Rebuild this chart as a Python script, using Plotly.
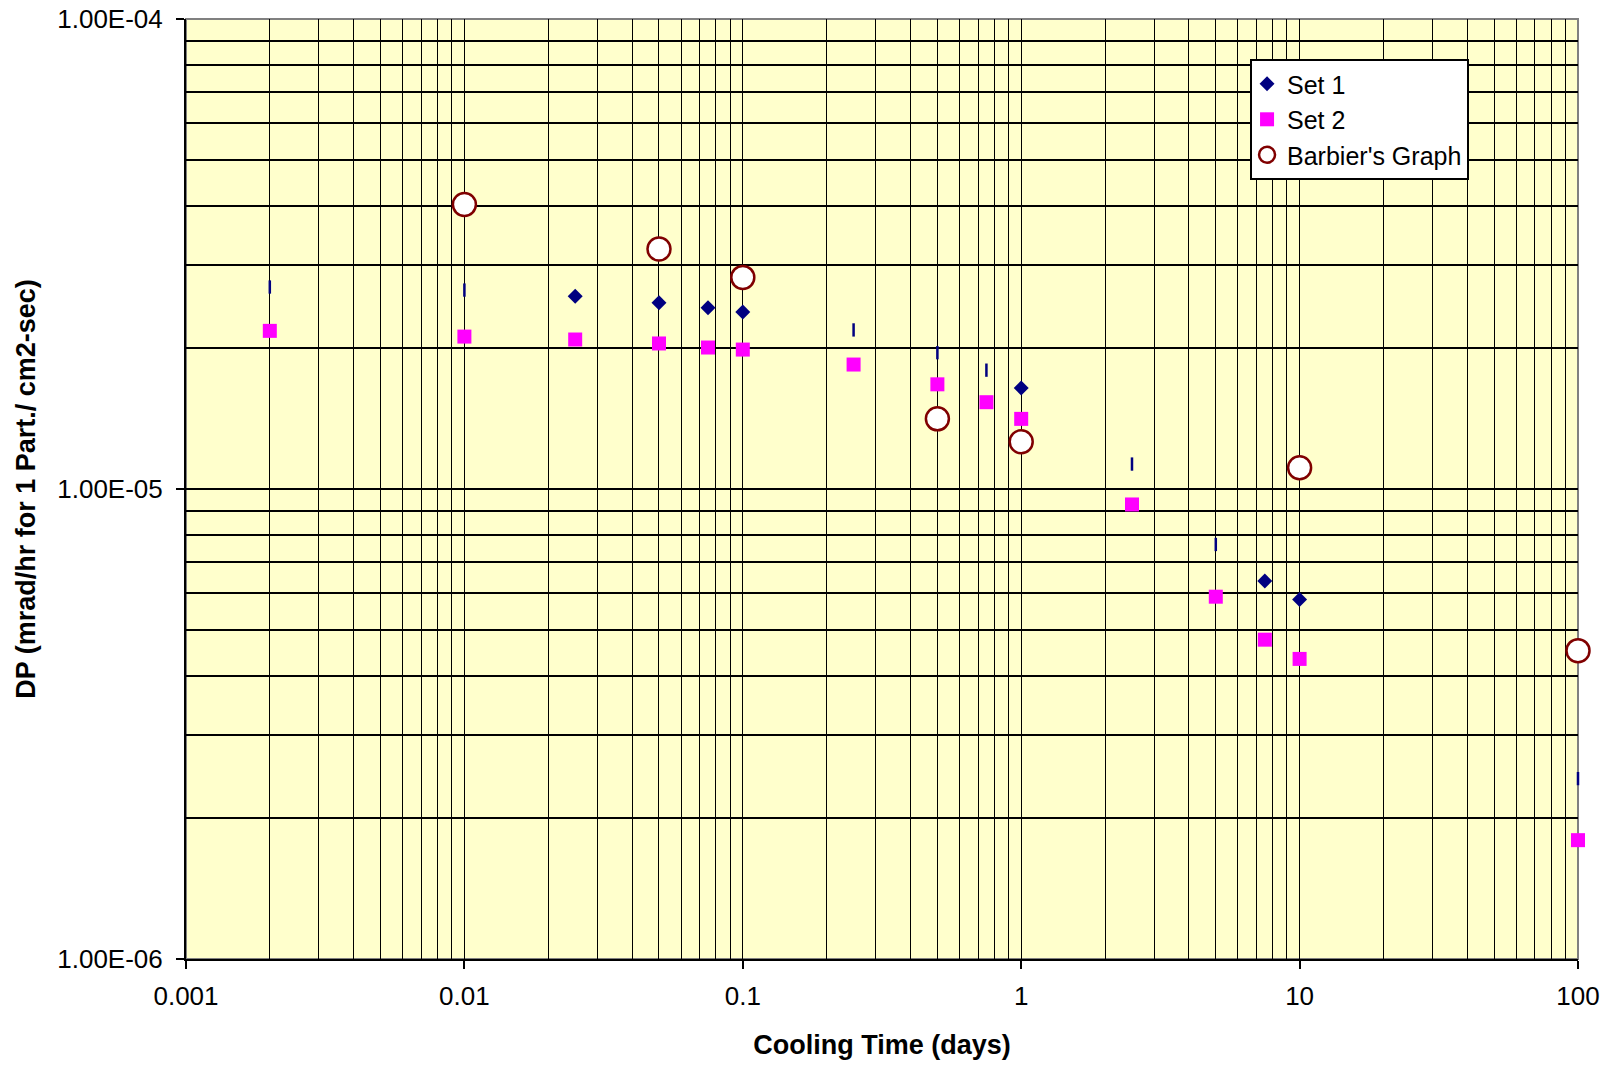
import plotly.graph_objects as go

# Cooling time (days) and dose per particle values
set1_diamond_x = [0.025, 0.05, 0.075, 0.1, 1, 7.5, 10]
set1_diamond_y = [2.57e-5, 2.49e-5, 2.43e-5, 2.38e-5, 1.64e-5, 6.37e-6, 5.82e-6]
set1_bar_x = [0.002, 0.01, 0.25, 0.5, 0.75, 2.5, 5, 100]
set1_bar_y = [2.69e-5, 2.65e-5, 2.18e-5, 1.95e-5, 1.79e-5, 1.13e-5, 7.62e-6, 2.42e-6]

set2_x = [0.002, 0.01, 0.025, 0.05, 0.075, 0.1, 0.25, 0.5, 0.75, 1, 2.5, 5, 7.5, 10, 100]
set2_y = [2.17e-5, 2.11e-5, 2.08e-5, 2.04e-5, 2.0e-5, 1.98e-5, 1.84e-5, 1.67e-5,
          1.53e-5, 1.41e-5, 9.27e-6, 5.9e-6, 4.78e-6, 4.35e-6, 1.79e-6]

barbier_x = [0.01, 0.05, 0.1, 0.5, 1, 10, 100]
barbier_y = [4.03e-5, 3.24e-5, 2.82e-5, 1.41e-5, 1.26e-5, 1.11e-5, 4.53e-6]

x_major = [0.001, 0.01, 0.1, 1, 10, 100]
x_major_text = ["0.001", "0.01", "0.1", "1", "10", "100"]
y_major = [1e-6, 1e-5, 1e-4]
y_major_text = ["1.00E-06", "1.00E-05", "1.00E-04"]

FONT = "Liberation Sans, Arial, sans-serif"
NAVY = "#000080"
MAGENTA = "#FF00FF"
MAROON = "#800000"

x_minor = [m * 10.0 ** e for e in range(-3, 2) for m in range(2, 10)]
y_minor = [m * 10.0 ** e for e in range(-6, -4) for m in range(2, 10)]

fig = go.Figure()

fig.add_trace(go.Scatter(
    x=set1_diamond_x, y=set1_diamond_y, mode="markers", name="Set 1",
    legendgroup="s1", cliponaxis=False,
    marker=dict(symbol="diamond", size=11.5, color=NAVY, line=dict(width=0)),
))
fig.add_trace(go.Scatter(
    x=set1_bar_x, y=set1_bar_y, mode="markers", name="Set 1",
    legendgroup="s1", showlegend=False, cliponaxis=False,
    marker=dict(symbol="line-ns", size=9.5, color=NAVY, line=dict(width=2.5, color=NAVY)),
))
fig.add_trace(go.Scatter(
    x=set2_x, y=set2_y, mode="markers", name="Set 2",
    legendgroup="s2", cliponaxis=False,
    marker=dict(symbol="square", size=14, color=MAGENTA, line=dict(width=0)),
))
fig.add_trace(go.Scatter(
    x=barbier_x, y=barbier_y, mode="markers", name="Barbier's Graph",
    legendgroup="bg", cliponaxis=False,
    marker=dict(symbol="circle", size=23, color="white", line=dict(width=2.5, color=MAROON)),
))

# grey frame on the top and right of the plot area
fig.add_shape(type="rect", xref="paper", yref="paper", x0=0, y0=0, x1=1, y1=1,
              line=dict(color="#808080", width=2), layer="between")

fig.update_layout(
    width=1608, height=1065,
    margin=dict(l=186, r=30, t=19, b=106),
    paper_bgcolor="white", plot_bgcolor="#FFFFCC",
    font=dict(family=FONT, size=26, color="black"),
    showlegend=True,
    legend=dict(
        x=0.7644, y=0.9574, xanchor="left", yanchor="top",
        bgcolor="white", bordercolor="black", borderwidth=2,
        font=dict(family=FONT, size=25, color="black"),
        tracegroupgap=8, traceorder="normal", indentation=-5,
    ),
    xaxis=dict(
        type="log", range=[-3, 2], automargin=False,
        tickmode="array", tickvals=x_major, ticktext=x_major_text,
        ticks="outside", ticklen=8, tickwidth=2, tickcolor="black",
        ticklabelstandoff=5,
        showline=True, linecolor="black", linewidth=2,
        showgrid=True, gridcolor="black", gridwidth=1,
        minor=dict(tickmode="array", tickvals=x_minor, showgrid=True,
                   gridcolor="black", gridwidth=1, ticks=""),
        tickfont=dict(family=FONT, size=26),
        title=dict(text="<b>Cooling Time (days)</b>", standoff=25,
                   font=dict(family=FONT, size=27)),
    ),
    yaxis=dict(
        type="log", range=[-6, -4], automargin=False,
        tickmode="array", tickvals=y_major, ticktext=y_major_text,
        ticks="outside", ticklen=8, tickwidth=2, tickcolor="black",
        ticklabelstandoff=8,
        showline=True, linecolor="black", linewidth=2,
        showgrid=True, gridcolor="black", gridwidth=2,
        minor=dict(tickmode="array", tickvals=y_minor, showgrid=True,
                   gridcolor="black", gridwidth=2, ticks=""),
        tickfont=dict(family=FONT, size=26),
        title=dict(text="<b>DP (mrad/hr for 1 Part./ cm2-sec)</b>", standoff=14,
                   font=dict(family=FONT, size=27)),
    ),
)

fig.write_html("out.html")
